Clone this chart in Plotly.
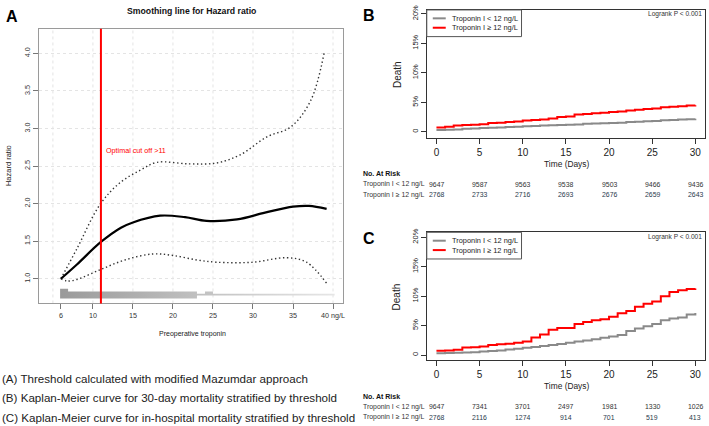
import plotly.graph_objects as go

W, H = 709, 426
FONT = "Liberation Sans, Arial, sans-serif"


def px(x):
    return x / W


def py(y):
    return 1 - y / H


# ---------------- Panel A data ----------------
a_x_ticks = [6, 10, 15, 20, 25, 30, 35, 40]
a_x_ticklabels = ["6", "10", "15", "20", "25", "30", "35", "40 ng/L"]
a_y_ticks = [1.0, 1.5, 2.0, 2.5, 3.0, 3.5, 4.0]
a_grid_x = [5, 10, 15, 20, 25, 30, 35, 40]
hr_x = [6, 8, 11, 13.5, 15, 18.4, 21.5, 24.2, 28, 31.5, 35, 37, 39.2]
hr_y = [1.0, 1.19, 1.49, 1.68, 1.75, 1.84, 1.82, 1.77, 1.79, 1.88, 1.96, 1.97, 1.93]
upper_x = [6, 8, 10.9, 13.4, 16, 18, 22, 25.4, 28.4, 31.75, 34.7, 37.2, 38.9]
upper_y = [1.0, 1.4, 1.99, 2.28, 2.45, 2.55, 2.53, 2.54, 2.65, 2.89, 3.02, 3.37, 4.01]
lower_x = [6, 6.8, 8, 10.9, 14, 17.5, 20, 23, 25.5, 30, 34.2, 36.7, 39.2]
lower_y = [1.0, 0.97, 0.99, 1.12, 1.25, 1.33, 1.31, 1.25, 1.22, 1.22, 1.28, 1.22, 0.94]
rug_x = [5.9, 6.9, 6.9, 23, 23, 24, 24, 25, 25, 40.2, 40.2, 23, 23, 5.9]
rug_y = [0.868, 0.868, 0.829, 0.829, 0.80, 0.80, 0.829, 0.829, 0.80, 0.80, 0.776, 0.776, 0.737, 0.737]
cutoff = 11

# ---------------- Panels B / C data ----------------
days = list(range(31))
b_low = [0.3, 0.35, 0.4, 0.5, 0.55, 0.65, 0.7, 0.75, 0.8, 0.85, 0.95, 1.0, 1.05, 1.1, 1.15, 1.2,
         1.25, 1.35, 1.4, 1.45, 1.5, 1.55, 1.65, 1.7, 1.8, 1.85, 1.95, 2.0, 2.1, 2.15, 2.2]
b_high = [0.75, 0.85, 1.05, 1.15, 1.2, 1.3, 1.5, 1.55, 1.65, 1.75, 1.9, 2.0, 2.1, 2.25, 2.5, 2.6,
          2.95, 3.0, 3.15, 3.25, 3.35, 3.45, 3.6, 3.75, 3.85, 3.95, 4.15, 4.25, 4.35, 4.45, 4.5]
c_low = [0.3, 0.35, 0.4, 0.45, 0.5, 0.6, 0.7, 0.8, 0.95, 1.1, 1.25, 1.4, 1.55, 1.7, 1.9, 2.1,
         2.3, 2.5, 2.7, 2.95, 3.15, 3.4, 4.1, 4.5, 4.9, 5.3, 5.9, 6.2, 6.4, 6.9, 7.15]
c_high = [0.75, 0.8, 0.9, 1.3, 1.35, 1.45, 1.7, 1.85, 1.95, 2.1, 2.3, 3.0, 3.5, 4.3, 4.6, 4.6,
          5.3, 5.6, 5.9, 6.1, 6.5, 7.1, 7.5, 8.2, 8.7, 9.1, 10.0, 10.7, 11.0, 11.2, 11.3]
km_x_ticks = [0, 5, 10, 15, 20, 25, 30]
km_y_ticks = [0, 5, 10, 15, 20]
km_y_ticklabels = ["0", "5%", "10%", "15%", "20%"]
group_names = ["Troponin I < 12 ng/L", "Troponin I \u2265 12 ng/L"]
risk_times = [0, 5, 10, 15, 20, 25, 30]
b_risk_low = [9647, 9587, 9563, 9538, 9503, 9466, 9436]
b_risk_high = [2768, 2733, 2716, 2693, 2676, 2659, 2643]
c_risk_low = [9647, 7341, 3701, 2497, 1981, 1330, 1026]
c_risk_high = [2768, 2116, 1274, 914, 701, 519, 413]
captions = [
    "(A) Threshold calculated with modified Mazumdar approach",
    "(B) Kaplan-Meier curve for 30-day mortality stratified by threshold",
    "(C) Kaplan-Meier curve for in-hospital mortality stratified by threshold",
]

GRAY = "#8a8a8a"
RED = "#ff0000"
DOTS = "1.4px,2.6px"

fig = go.Figure()

# ---- Panel A traces ----
fig.add_trace(go.Scatter(
    x=rug_x, y=rug_y, mode="lines", fill="toself", line=dict(width=0),
    fillgradient=dict(type="horizontal", colorscale=[[0, "#9a9a9a"], [1, "#e6e6e6"]]),
    xaxis="x", yaxis="y", hoverinfo="skip", showlegend=False))
fig.add_trace(go.Scatter(x=upper_x, y=upper_y, mode="lines",
                         line=dict(color="#333", width=1.4, dash=DOTS, shape="spline", smoothing=1.0),
                         xaxis="x", yaxis="y", showlegend=False))
fig.add_trace(go.Scatter(x=lower_x, y=lower_y, mode="lines",
                         line=dict(color="#333", width=1.4, dash=DOTS, shape="spline", smoothing=1.0),
                         xaxis="x", yaxis="y", showlegend=False))
fig.add_trace(go.Scatter(x=hr_x, y=hr_y, mode="lines", line=dict(color="#000", width=2.2, shape="spline", smoothing=1.0),
                         xaxis="x", yaxis="y", showlegend=False))

# ---- Panel B / C traces ----
for xa, ya, lo, hi in (("x2", "y2", b_low, b_high), ("x3", "y3", c_low, c_high)):
    fig.add_trace(go.Scatter(x=days, y=lo, mode="lines", line=dict(color=GRAY, width=2, shape="hv"),
                             xaxis=xa, yaxis=ya, name=group_names[0], showlegend=False))
    fig.add_trace(go.Scatter(x=days, y=hi, mode="lines", line=dict(color=RED, width=2, shape="hv"),
                             xaxis=xa, yaxis=ya, name=group_names[1], showlegend=False))

shapes = []
# Panel A grid
for gx in a_grid_x:
    shapes.append(dict(type="line", xref="x", yref="y domain", x0=gx, x1=gx, y0=0, y1=1,
                       line=dict(color="#e4e4e4", width=1, dash="dot"), layer="below"))
# cut-off line
shapes.append(dict(type="line", xref="x", yref="y domain", x0=cutoff, x1=cutoff, y0=0, y1=1,
                   line=dict(color=RED, width=2)))

annotations = []


def txt(x, y, text, size, color="#222", bold=False, xanchor="left", yanchor="middle", angle=0, xref="paper", yref="paper"):
    annotations.append(dict(
        x=x, y=y, xref=xref, yref=yref, text=("<b>%s</b>" % text) if bold else text,
        showarrow=False, xanchor=xanchor, yanchor=yanchor, textangle=angle,
        font=dict(family=FONT, size=size, color=color)))


# Panel A labels
txt(px(4), py(12), "A", 16, "#000", bold=True)
txt(px(192), py(6), "Smoothing line for Hazard ratio", 8.7, "#111", bold=True, xanchor="center")
txt(px(8), py(162), "Hazard ratio", 7.5, "#222", xanchor="center", angle=-90)
txt(px(193), py(333), "Preoperative troponin", 7, "#222", xanchor="center")
txt(11.4, 2.71, "Optimal cut off >11", 7.2, RED, xref="x", yref="y")

# captions
for i, c in enumerate(captions):
    txt(px(0), py(377.5 + 20 * i), c, 11.6, "#222")

# Panels B / C decorations
for (top, label, xa, risk_lo, risk_hi) in ((5, "B", "x2", b_risk_low, b_risk_high),
                                           (230, "C", "x3", c_risk_low, c_risk_high)):
    txt(px(362), py(top + 6), label, 16, "#000", bold=True)
    txt(px(398), py(top + 65), "Death", 10, "#222", xanchor="center", angle=-90)
    txt(px(706), py(top + 4.5), "Logrank P < 0.001", 6.6, "#333", xanchor="right")
    txt(px(568), py(top + 156), "Time (Days)", 8.4, "#222", xanchor="center")
    # legend box
    shapes.append(dict(type="rect", xref="paper", yref="paper", x0=px(428), x1=px(523), y0=py(top + 27), y1=py(top),
                       line=dict(color="#555", width=1), fillcolor="white"))
    shapes.append(dict(type="line", xref="paper", yref="paper", x0=px(434), x1=px(447), y0=py(top + 8.5), y1=py(top + 8.5),
                       line=dict(color=GRAY, width=2)))
    shapes.append(dict(type="line", xref="paper", yref="paper", x0=px(434), x1=px(447), y0=py(top + 18), y1=py(top + 18),
                       line=dict(color=RED, width=2)))
    txt(px(451), py(top + 8.5), group_names[0], 7.4, "#222")
    txt(px(451), py(top + 18), group_names[1], 7.4, "#222")
    # risk table
    txt(px(362), py(top + 166), "No. At Risk", 7, "#111", bold=True)
    txt(px(362), py(top + 176.5), group_names[0], 6.9, "#333")
    txt(px(362), py(top + 187), group_names[1], 6.9, "#333")
    for t, n1, n2 in zip(risk_times, risk_lo, risk_hi):
        txt(t, py(top + 176.5), str(n1), 6.9, "#333", xanchor="center", xref=xa)
        txt(t, py(top + 187), str(n2), 6.9, "#2a3a4c", xanchor="center", xref=xa)

axis_font = dict(family=FONT, size=7.2, color="#333")
km_tick_font = dict(family=FONT, size=10, color="#222")
km_ytick_font = dict(family=FONT, size=7.5, color="#222")

fig.update_layout(
    width=W, height=H, margin=dict(l=0, r=0, t=0, b=0),
    paper_bgcolor="white", plot_bgcolor="white", showlegend=False,
    font=dict(family=FONT),
    shapes=shapes, annotations=annotations,
    xaxis=dict(domain=[px(39), px(344)], range=[3.25, 41.25], tickmode="array", tickvals=a_x_ticks,
               ticktext=a_x_ticklabels, ticks="outside", ticklen=5, tickcolor="#777", showline=True,
               mirror=True, linecolor="#9a9a9a", linewidth=1, showgrid=False, zeroline=False,
               tickfont=axis_font, anchor="y"),
    yaxis=dict(domain=[py(302), py(24)], range=[0.671, 4.329], tickmode="array", tickvals=a_y_ticks,
               tickformat=".1f", tickangle=-90, ticks="outside", ticklen=5, tickcolor="#777",
               showline=True, mirror=True, linecolor="#9a9a9a", linewidth=1, showgrid=True,
               gridcolor="#e4e4e4", griddash="dot", zeroline=False, tickfont=axis_font, anchor="x"),
    xaxis2=dict(domain=[px(428), px(707)], range=[-1.12, 31.12], tickmode="array", tickvals=km_x_ticks,
                ticks="outside", ticklen=5, tickcolor="#333", showline=True, mirror=True, linecolor="#333",
                linewidth=1, showgrid=False, zeroline=False, tickfont=km_tick_font, anchor="y2"),
    yaxis2=dict(domain=[py(135), py(5)], range=[-1.12, 20.67], tickmode="array", tickvals=km_y_ticks,
                ticktext=km_y_ticklabels, tickangle=-90, ticks="outside", ticklen=5, tickcolor="#333",
                showline=True, mirror=True, linecolor="#333", linewidth=1, showgrid=False, zeroline=False,
                tickfont=km_ytick_font, anchor="x2"),
    xaxis3=dict(domain=[px(428), px(707)], range=[-1.12, 31.12], tickmode="array", tickvals=km_x_ticks,
                ticks="outside", ticklen=5, tickcolor="#333", showline=True, mirror=True, linecolor="#333",
                linewidth=1, showgrid=False, zeroline=False, tickfont=km_tick_font, anchor="y3"),
    yaxis3=dict(domain=[py(359), py(230)], range=[-0.79, 20.84], tickmode="array", tickvals=km_y_ticks,
                ticktext=km_y_ticklabels, tickangle=-90, ticks="outside", ticklen=5, tickcolor="#333",
                showline=True, mirror=True, linecolor="#333", linewidth=1, showgrid=False, zeroline=False,
                tickfont=km_ytick_font, anchor="x3"),
)

fig.write_html("out.html", config={"displayModeBar": False},
               post_script="document.body.style.margin='0';document.body.style.overflow='hidden';")
